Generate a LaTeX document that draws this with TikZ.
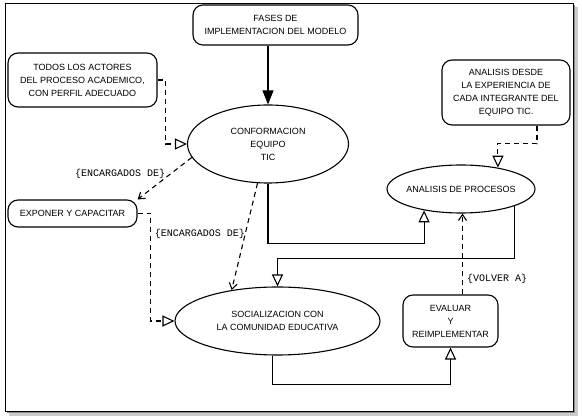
\documentclass[tikz,border=0pt]{standalone}
\usepackage{fontspec}
\setmainfont{Liberation Sans}
\newfontfamily\labelfont{Liberation Mono}
\usetikzlibrary{positioning,shapes.geometric,arrows.meta}

\begin{document}
\begin{tikzpicture}[x=1pt, y=-1pt, on grid,
    every node/.style={font=\fontsize{9}{13}\selectfont, align=center, inner sep=0pt},
    box/.style={draw, line width=1.1pt, rounded corners=10pt},
    oval/.style={draw, ellipse, line width=1.1pt},
    link/.style={line width=1.1pt},
    dline/.style={line width=1.1pt, dash pattern=on 5pt off 4pt},
    open tip/.style={-{Triangle[open, length=12pt, width=11pt]}},
    barb tip/.style={-{Straight Barb[length=6pt, width=8pt]}},
    full tip/.style={-{Triangle[length=14pt, width=11pt]}},
    tag/.style={font=\labelfont\fontsize{10}{12}\selectfont}]
    \useasboundingbox (0,0) rectangle (582,419);
    \fill[black!20] (9,7) rectangle (578,416);
    \fill[black!45] (7,5) rectangle (575,413);
    \draw[fill=white, line width=0.8pt] (5,3) rectangle (573,411);

    \node[box, minimum width=165pt, minimum height=40pt] (a1) at (275.5,25) {FASES DE\\IMPLEMENTACION DEL MODELO};
    \node[oval, minimum width=161pt, minimum height=78pt, below left=119pt and 7.5pt of a1] (a2) {CONFORMACION\\EQUIPO\\TIC};
    \node[box, minimum width=149pt, minimum height=54pt, above left=64pt and 185.5pt of a2] (b1) {TODOS LOS ACTORES\\DEL PROCESO ACADEMICO,\\CON PERFIL ADECUADO};
    \node[box, minimum width=129pt, minimum height=27pt, below left=69.5pt and 195.5pt of a2] (b2) {EXPONER Y CAPACITAR};
    \node[oval, minimum width=205pt, minimum height=68pt, below right=177pt and 9.5pt of a2] (a3) {SOCIALIZACION CON\\LA COMUNIDAD EDUCATIVA};
    \node[oval, inner xsep=-4pt, minimum width=148pt, minimum height=48pt, below right=45pt and 193pt of a2] (c2) {ANALISIS DE PROCESOS};
    \node[box, minimum width=128pt, minimum height=65pt, above right=96.5pt and 45pt of c2] (c1) {ANALISIS DESDE\\LA EXPERIENCIA DE\\CADA INTEGRANTE DEL\\EQUIPO TIC.};
    \node[box, minimum width=95pt, minimum height=52pt, right=173pt of a3] (c3) {EVALUAR\\Y\\REIMPLEMENTAR};

    \draw[link, full tip] (a2.north |- a1.south) -- (a2.north);
    \draw[dline, open tip] (b1.east) -- ++(8,0) |- (a2.west);
    \draw[dline, barb tip] (a2.190) -- node[tag, pos=0.39, left=5pt] {\{ENCARGADOS DE\}} (b2.north east);
    \draw[dline, barb tip] (a2.255) -- node[tag, pos=0.47, left=0pt] {\{ENCARGADOS DE\}} (a3.146);
    \draw[dline, open tip] (b2.east) -- ++(13,0) |- (a3.west);
    \draw[dline, open tip] ([xshift=31pt]c1.south) -- ++(0,18) -| (c2.30);
    \draw[link, open tip] (a2.south) |- ([yshift=-33pt]c2.210) -- (c2.210);
    \draw[link, open tip] (c2.342) |- ([yshift=28pt]a3.north) -- (a3.north);
    \draw[dline, barb tip] ([xshift=12pt]c3.north) -- node[tag, pos=0.19, right=4pt] {\{VOLVER A\}} ([xshift=12pt]c3.north |- c2.south);
    \draw[link, open tip] ([xshift=-5pt]a3.south) |- ([yshift=-37pt]c3.south) -- (c3.south);
\end{tikzpicture}
\end{document}
